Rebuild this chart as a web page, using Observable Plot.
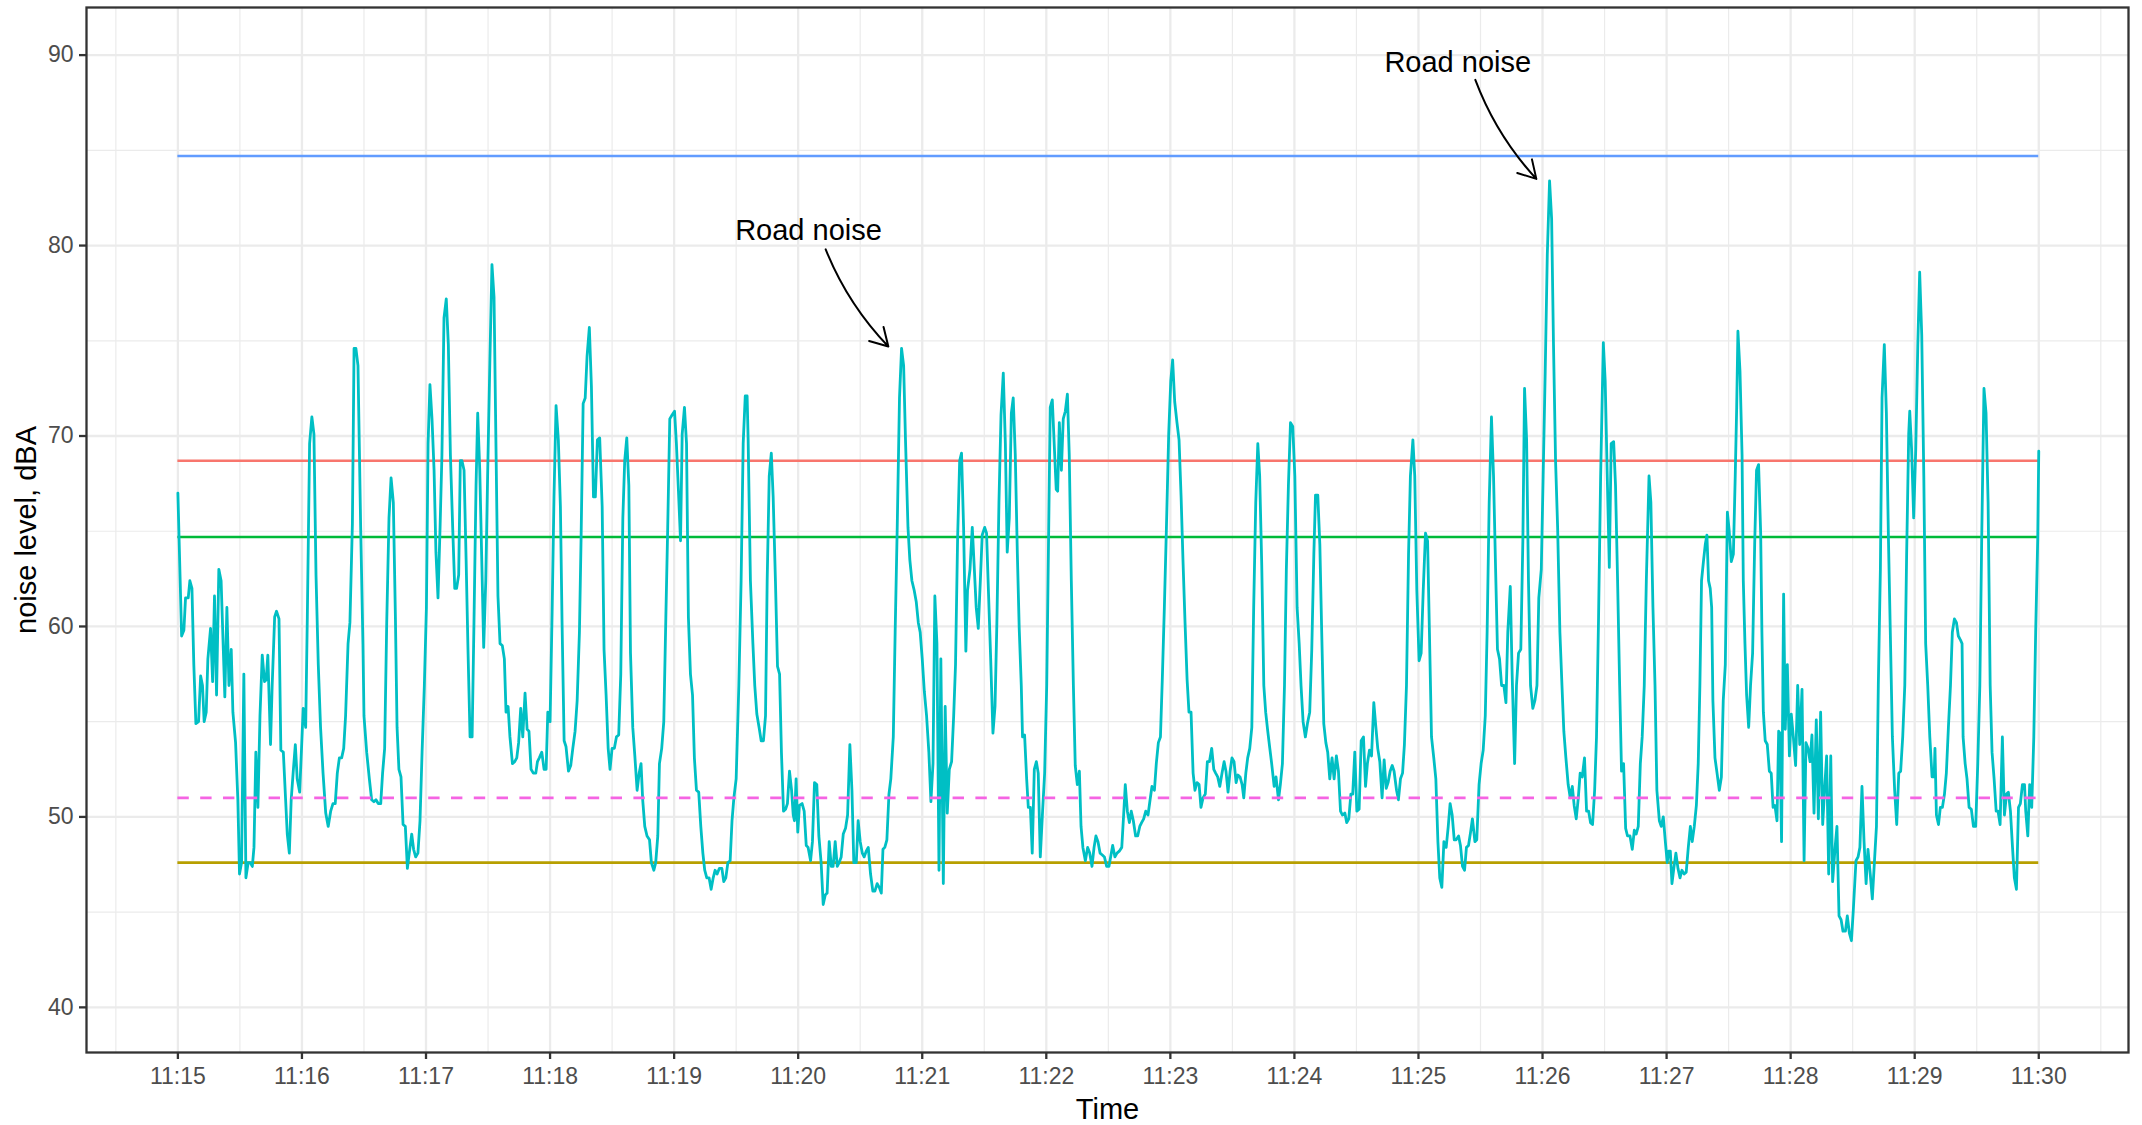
<!DOCTYPE html>
<html>
<head>
<meta charset="utf-8">
<script src="https://cdn.jsdelivr.net/npm/d3@7"></script>
<script src="https://cdn.jsdelivr.net/npm/@observablehq/plot@0.6"></script>
<style>
  html, body { margin: 0; padding: 0; background: #ffffff; }
  #chart svg { display: block; }
</style>
</head>
<body>
<div id="chart"></div>
<script>
// ---- data: seconds after 11:15:00 and measured noise level (dBA) ----
const secs = [
0,1.8,2.9,3.7,5,5.8,6.8,7.7,8.7,10,11,11.9,12.7,13.7,14.5,15.8,16.8,17.7,18.7,19.8,20.9,22.7,23.7,24.7,25.8,26.6,27.9,29,29.8,30.8,31.9,32.9,34,35,36,36.8,37.7,38.7,39.7,40.8,41.9,42.7,43.5,44.8,45.6,46.8,47.7,48.9,49.8,51,52.1,52.9,53.9,54.8,55.8,56.8,57.7,58.9,59.8,60.6,61.8,62.6,63.7,64.8,65.8,66.8,67.9,69,70.2,71.5,72.7,73.9,75,76.1,77.1,78.1,79.2,80.2,81.1,82.3,83.2,84.4,85.2,86.1,87.1,88.4,89.5,
90,91.3,92.6,93.7,94.8,95.8,96.9,98.1,99,100,101,102.1,103.1,104.2,105.2,106,106.9,107.9,108.9,110,111,111.9,113.1,114,115,116.1,117.1,118.1,119.2,120.2,121,121.9,122.9,123.9,124.8,125.8,126.8,127.7,128.7,129.8,130.8,131.8,132.9,133.9,134.8,135.8,136.6,137.4,138.4,139.4,140.3,141.3,142.3,143.2,144.2,145,146,146.9,147.9,148.9,149.8,150.9,151.9,152.9,153.9,154.8,155.8,156.9,157.9,158.7,159.7,160.6,161.8,162.9,163.9,164.8,165.8,166.8,167.9,168.9,169.8,170.8,171.9,173.1,173.9,174.8,176,177.1,178.1,178.9,180,
181,181.9,182.9,184,185,185.8,186.8,187.7,188.9,190,191,192.1,193.1,194.2,195,196,197,197.9,199,200,201,201.9,202.9,204,205.2,206.1,207.1,208.1,209,210,211.1,212.1,213.2,214.2,215.2,216.1,217.1,218.1,218.9,220,221,222.1,223.1,224,224.8,225.8,226.9,228.1,229,230.2,231.1,232.1,232.9,234,235,236,236.9,237.9,239,240.2,241.1,242.1,243.1,243.9,245,246,246.9,247.9,248.9,249.8,250.8,251.9,252.9,253.9,254.8,255.8,256.9,257.9,258.9,259.8,260.8,261.9,263.1,264,265,266,267.1,
268,268.9,270,271.3,272.4,273.4,274.4,275.3,275.8,276.9,278.1,279,280,281.1,282.1,283.2,284.2,285,286,287,287.9,289,290,291,291.9,292.9,293.9,294.8,295.8,296.8,297.6,298.2,299,299.8,300.6,301.9,302.9,303.9,304.8,306,306.9,307.9,309,310,311.1,312.1,313.1,314,315,316,316.9,317.9,318.9,319.8,320.8,321.8,322.9,323.9,325,326,326.9,328.1,329,330,331,331.9,332.9,333.9,335,336.1,337.1,338.2,339.2,340.2,341,341.9,342.9,343.9,344.8,346,346.9,347.9,349,350,351,351.9,353.1,354,355,356.1,357.1,358.1,359,360,
361,362.1,363.2,364.2,365.2,366.1,367.1,368.1,369,370.2,371.1,372.1,373.1,374.2,375.2,376.1,377.1,378.1,379,380,381.1,381.9,383.1,384.2,385.2,386.1,387.1,388.1,389,390.2,391.1,392.1,393.1,394.2,395.2,396.1,397.1,398.1,399.2,400.2,401.1,402.1,403.1,404,405,406,406.9,407.9,408.5,409.5,410.5,411.3,412.3,413.2,414.2,415.2,416.1,417.1,418.2,419.2,420.2,421.1,421.9,422.9,423.9,424.8,425.5,426.3,427.3,428.2,429.2,430.2,431.1,432.1,433.1,434,435,436,436.8,437.7,438.9,440,441,442.1,443.1,444,445,446,447.1,448.1,449.2,450.3,
452.1,453.2,454.2,455.3,456.5,457.4,458.2,459.2,460.2,461.1,462.1,463.2,464.2,465.2,466.1,467.1,468.1,469.2,470.2,471.1,472.3,473.2,474.2,475.2,476.1,477.1,478.1,479.2,480.2,481.1,482.1,483.2,484.2,485.2,486.1,487.1,488.1,489,490,491,491.9,492.9,493.9,494.8,495.8,496.9,497.9,498.9,500,501,501.9,502.9,503.9,505,506,506.9,507.9,508.9,509.8,510.8,511.8,512.7,513.7,514.7,515.5,516.5,517.4,518.4,519.4,520.3,521.3,522.3,523.2,524.2,525.2,526.1,527.1,528.1,529,530.2,531.1,532.3,533.2,534.2,535.2,536.1,537.1,538.1,539.2,540.2,541.3,
542.3,543.2,544.2,545.3,546.3,547.4,548.4,549.4,550.2,551.3,552.3,553.2,554.2,555.2,556.1,557.1,558.2,559.2,560.3,561.3,562.3,563.2,564.4,565.3,566.3,567.3,568.2,569.2,570.2,571.3,572.3,573.4,574.4,575.3,576.3,577.3,578.4,579.4,580.3,581.3,582.4,583.4,584.4,585.3,586.3,587.3,588.2,589.4,590.3,591.3,592.3,593.2,594.2,595.2,596.1,597.3,598.2,599.2,600.3,601.3,602.3,603.4,604.4,605.3,606.3,607.4,608.4,609.4,610.3,611.3,612.3,613.4,614.4,615.3,616.3,617.3,618.2,619.4,620.3,621.3,622.3,623.2,624.2,625.2,626.1,627.3,628.2,629.3,630.3,631.3,
632.3,633.2,634.2,635.3,636.3,637.3,638.2,639.2,640.2,641.3,642.3,643.2,644.4,645.3,646.5,647.4,648.4,649.5,650.5,651.3,652.3,653.2,654.2,655.3,656.3,657.3,658.2,659.4,660.3,661.3,662.3,663.4,664.4,665.3,666.3,667.3,668.4,669.4,670.3,671.3,672.4,673.4,674.4,675.3,676.3,677.3,678.2,679.2,680.3,681.3,682.3,683.2,684.2,685.2,686.1,687.1,688.1,689.4,690.3,691.3,692.3,693.2,694.4,695.3,696.3,697.3,698.2,699.2,700.2,701.1,702.3,703.4,704.4,705.3,706.3,707.3,708.2,709.2,710.2,711.5,712.4,713.4,714.4,715.3,716.5,717.4,718.4,719.4,720.3,
721,721.8,722.6,723.5,724.5,725.5,726.5,727.4,728.5,729.5,730.5,731.5,732.4,733.4,734.4,735.3,736.1,736.9,737.9,738.7,739.5,740.3,741.1,741.8,742.4,743.4,744.4,745.5,746.5,747.4,748.4,749.4,750.3,751.3,752.3,753.2,753.9,754.5,755.5,756.5,757.1,757.9,758.7,759.7,760.6,761.6,762.6,763.5,764.5,765.5,766.1,766.8,767.7,768.7,769.7,770.6,771.5,772.4,773.4,774.2,774.8,775.6,776.6,777.4,778.4,779.4,780.3,781.3,782.4,783.4,784.4,785.5,786.5,787.4,788.4,789.4,790.3,791.3,792.4,793.4,794.5,795.5,796.5,797.4,798.4,799.4,800.3,801.5,802.4,803.4,804.4,805.3,806.5,807.4,808.4,809.4,810.3,
811.6,812.6,813.5,814.5,815.5,816.5,817.4,818.5,819.5,820.5,821.5,822.4,823.4,824.2,825.3,826.3,827.3,828.2,829.2,830.3,831.3,832.3,833.2,834.2,835.2,836.1,837.1,837.6,838.5,839.5,840.5,841.5,842.4,843.4,844.4,845.3,846.3,847.3,848.4,849.4,849.8,850.5,851.5,852.4,853.4,854.4,855.3,856.3,857.3,858.2,859.2,860.2,861.1,862.1,862.9,863.4,864.4,865.3,866.3,867.4,868.4,869.5,870.5,871.5,872.4,873.5,874.5,875.5,876.5,877.4,878.4,879.4,880.3,881.3,882.4,883.4,884.4,885.3,886.3,887.3,888.2,889.2,890.2,891.1,892.1,893.1,893.7,894.7,895.6,896.6,897.6,898.5,899.5,900
];
const levels = [
67.0,59.5,59.8,61.5,61.5,62.4,62.0,58.0,54.9,55.0,57.4,56.9,55.0,55.5,58.3,59.9,57.1,61.6,56.4,63.0,62.4,56.3,61.0,56.9,58.8,55.5,53.9,50.9,47.0,47.6,57.5,46.8,47.6,47.6,47.4,48.4,53.4,50.5,55.3,58.5,57.1,57.2,58.5,53.8,56.9,60.5,60.8,60.4,53.5,53.4,50.9,49.1,48.1,50.9,52.4,53.8,52.0,51.3,53.6,55.7,54.7,60.5,69.6,71.0,70.1,62.7,58.0,54.7,52.3,50.2,49.5,50.3,50.7,50.7,52.3,53.1,53.1,53.6,55.3,59.1,60.2,65.4,74.6,74.6,73.7,65.2,59.1,
55.3,53.4,52.0,50.9,50.8,50.9,50.7,50.7,52.3,53.6,60.2,65.7,67.8,66.5,60.5,54.7,52.5,52.1,49.6,49.5,47.3,48.1,49.1,48.3,47.9,48.1,49.8,53.4,56.9,61.0,69.6,72.7,70.9,68.2,63.9,61.5,65.2,69.0,76.2,77.2,74.8,69.0,65.2,62.0,62.0,62.7,68.7,68.7,68.2,63.5,58.8,54.2,54.2,60.2,67.4,71.2,68.2,63.8,58.9,62.4,67.9,74.0,79.0,77.3,69.0,61.6,59.1,59.0,58.3,55.5,55.8,54.2,52.8,52.9,53.1,53.9,55.7,54.2,56.5,54.6,54.5,52.5,52.3,52.3,52.9,53.1,53.4,52.5,52.5,55.5,55.0,
60.8,66.8,71.6,69.8,66.3,60.2,54.0,53.7,52.4,52.7,53.6,54.5,56.1,59.7,64.6,71.7,72.0,74.2,75.7,72.6,66.8,66.8,69.8,69.9,66.3,58.8,56.4,53.6,52.5,53.6,53.6,54.2,54.3,57.5,65.7,68.7,69.9,67.4,58.6,54.7,53.2,51.4,52.3,52.8,50.9,49.5,49.0,48.8,47.6,47.2,47.6,49.0,52.8,53.6,55.0,60.5,65.2,70.9,71.1,71.3,69.6,67.1,64.5,70.1,71.5,69.6,60.5,57.5,56.4,53.1,51.4,51.3,49.5,48.1,47.2,46.8,46.8,46.2,46.8,47.2,47.0,47.3,47.3,46.6,46.8,47.6,47.7,
49.8,51.0,52.0,56.9,62.4,69.6,72.1,72.1,69.8,62.4,59.1,56.9,55.4,54.7,54.0,54.0,55.3,62.4,67.9,69.1,66.8,62.4,57.9,57.5,53.4,50.3,50.4,50.7,52.4,51.4,50.1,49.8,52.0,49.2,50.6,50.7,50.3,48.5,48.4,47.7,48.7,51.8,51.7,49.0,47.6,45.4,45.9,46.0,48.7,47.4,47.4,48.7,47.4,47.6,47.9,49.1,49.4,50.1,53.8,51.4,47.6,47.6,49.8,48.7,48.1,47.9,48.2,48.4,47.0,46.1,46.1,46.5,46.3,46.0,48.3,48.4,48.8,51.2,52.0,54.2,59.7,65.2,72.0,74.6,73.7,69.8,65.2,63.5,62.4,61.9,61.3,60.2,59.7,58.3,
56.6,55.3,53.4,50.8,52.8,61.6,59.1,47.2,58.3,46.5,55.8,50.2,52.5,52.9,55.3,58.0,64.6,68.7,69.1,65.2,58.7,61.9,63.0,65.2,63.0,61.0,59.9,62.4,64.8,65.2,64.9,61.6,58.3,54.4,55.8,60.2,66.5,71.1,73.3,69.6,63.9,65.7,71.2,72.0,69.0,63.8,59.9,56.9,54.2,54.3,52.0,50.5,50.5,48.1,52.5,52.9,52.3,47.9,50.3,52.3,56.9,64.6,71.5,71.9,69.4,67.2,67.1,70.7,68.2,70.9,71.3,72.2,69.0,62.4,56.9,52.7,51.7,52.4,49.5,48.4,47.7,48.4,48.1,47.4,48.4,49.0,48.7,48.1,48.0,47.9,47.4,47.4,
48.5,47.9,48.1,48.2,48.4,50.1,51.7,50.3,49.7,50.3,49.8,49.0,49.0,49.5,49.7,49.9,50.3,50.1,50.9,51.6,51.4,52.8,53.9,54.2,57.2,61.0,65.2,70.1,72.9,74.0,71.8,70.7,69.8,66.8,63.5,60.2,57.2,55.5,55.5,52.3,51.4,51.8,51.7,50.5,51.0,51.2,52.9,52.9,53.6,52.5,52.3,52.1,51.6,52.3,52.9,52.4,51.3,52.4,53.1,52.9,51.8,52.2,52.1,51.7,51.0,52.3,53.1,53.6,54.7,61.0,66.5,69.6,67.9,63.2,56.9,55.5,54.5,53.6,52.8,51.6,52.1,50.9,51.7,52.8,56.9,63.0,67.4,70.7,70.5,67.9,61.0,
59.1,56.9,55.0,54.2,54.9,55.5,58.8,63.8,66.9,66.9,64.3,59.7,54.9,53.9,53.4,52.0,53.1,52.0,53.2,52.4,50.3,50.1,50.2,49.7,49.9,51.2,51.2,53.4,50.3,50.4,54.0,54.2,51.6,52.8,53.5,53.2,56.0,54.7,53.6,52.9,51.0,53.0,51.5,51.8,52.4,52.7,52.4,51.4,50.9,52.0,52.3,53.8,56.9,63.8,67.9,69.8,67.9,61.9,58.2,58.6,61.9,64.9,64.5,59.7,54.2,53.1,52.0,48.7,46.8,46.3,48.7,48.4,49.5,50.7,50.1,48.8,48.8,49.0,48.5,47.4,47.2,48.4,48.5,49.2,49.9,48.7,48.8,51.7,52.8,53.5,
55.3,59.7,66.5,71.0,67.9,63.0,58.8,58.3,56.9,56.9,56.0,59.7,62.1,57.5,52.8,56.9,58.6,58.8,64.6,72.5,69.8,62.4,56.9,55.7,56.1,56.9,61.5,63.0,67.9,73.4,79.5,83.4,81.4,74.8,68.7,65.2,59.7,56.9,54.5,53.1,51.7,51.0,51.6,50.6,49.9,51.0,52.3,52.1,53.1,50.3,50.3,49.7,49.6,51.4,54.2,60.5,67.9,74.9,72.9,67.9,63.1,69.6,69.7,67.4,62.4,56.9,52.4,52.8,49.4,49.0,49.0,48.3,49.3,49.1,49.5,52.8,54.2,56.9,62.4,67.9,66.5,61.0,56.9,51.4,49.8,49.5,50.0,48.7,47.6,
48.2,48.2,46.5,47.3,48.1,47.3,46.8,47.2,47.0,47.1,48.4,49.5,48.7,49.5,50.6,52.8,56.9,62.4,63.5,64.3,64.8,62.4,62.0,61.0,56.1,53.1,52.3,51.4,52.1,56.1,58.0,66.0,65.0,63.4,63.8,67.9,71.5,75.5,73.4,69.0,62.4,59.1,56.4,54.7,56.9,58.6,64.3,68.2,68.5,64.9,59.7,55.5,54.0,53.8,52.4,52.3,50.5,50.6,49.8,54.5,54.4,48.7,61.7,54.6,58.0,53.2,55.4,54.2,52.7,56.9,53.8,56.7,47.7,53.9,53.6,52.9,54.3,50.2,55.1,49.9,55.5,49.6,51.6,53.2,47.0,53.2,46.6,48.4,49.5,44.8,44.6,44.0,44.0,44.8,43.9,43.5,45.1,
47.7,47.9,48.4,51.6,48.7,46.5,48.3,47.0,45.7,47.6,49.5,56.9,63.0,72.0,74.8,71.2,64.6,59.7,54.2,51.4,49.6,52.3,52.4,54.2,56.9,63.8,70.1,71.3,69.3,65.7,69.3,74.8,78.6,75.3,67.9,59.1,56.9,54.2,52.1,52.1,53.6,50.1,49.6,50.5,50.5,51.2,52.3,54.7,56.9,59.7,60.4,60.2,59.5,59.3,59.1,54.2,52.8,52.0,50.5,50.4,49.5,49.5,52.8,56.9,64.6,72.5,71.2,66.5,56.9,53.4,52.0,50.3,50.3,49.6,54.2,50.1,51.2,51.3,50.3,48.4,46.8,46.2,50.5,50.7,51.7,51.7,50.3,49.0,51.7,50.5,54.2,59.7,64.6,69.2
];

// summary levels drawn as horizontal lines over the measured period
const refNames  = ["ref1", "ref2", "ref3", "ref5", "ref6"];
const refLevels = [68.7, 47.6, 64.7, 84.7, 51.0];

// annotations
const noteLabels     = ["Road noise", "Road noise"];
const noteSecs       = [305, 619];
const noteLevels     = [80.8, 89.6];
const arrowFromSecs  = [313.3, 627.5];
const arrowFromLvls  = [79.8, 88.7];
const arrowToSecs    = [343.6, 657];
const arrowToLvls    = [74.7, 83.5];

// axis ticks
const yTicks = [40, 50, 60, 70, 80, 90];
const yMinorTicks = [45, 55, 65, 75, 85];
const minuteTicks = d3.range(0, 16).map(m => m * 60);
const halfMinuteTicks = d3.range(-1, 16).map(m => m * 60 + 30);

// ---- build ----
const T0 = Date.UTC(2021, 0, 1, 11, 15, 0);
const toDate = s => new Date(T0 + s * 1000);
const series = secs.map((s, i) => ({time: toDate(s), level: levels[i]}));
const tStart = toDate(secs[0]);
const tEnd = toDate(secs[secs.length - 1]);
const refs = refNames.map((n, i) => ({name: n, level: refLevels[i]}));
const refColor = {ref1: "#F8766D", ref2: "#B79F00", ref3: "#00BA38", ref5: "#619CFF", ref6: "#F564E3"};
const notes = noteLabels.map((l, i) => ({label: l, time: toDate(noteSecs[i]), level: noteLevels[i]}));
const arrows = arrowFromSecs.map((s, i) => ({
  t1: toDate(s), v1: arrowFromLvls[i], t2: toDate(arrowToSecs[i]), v2: arrowToLvls[i]
}));

const font = "'Liberation Sans', Arial, Helvetica, sans-serif";
const gridColor = "#EBEBEB";

const chart = Plot.plot({
  width: 2142,
  height: 1125,
  marginLeft: 86,
  marginRight: 14,
  marginTop: 7,
  marginBottom: 73,
  style: {fontFamily: font, fontSize: "23px", background: "#ffffff", color: "#000000"},
  x: {type: "utc", domain: [toDate(-44.2), toDate(943.4)]},
  y: {domain: [37.63, 92.5]},
  marks: [
    Plot.gridX(halfMinuteTicks.map(toDate), {stroke: gridColor, strokeOpacity: 1, strokeWidth: 1.2}),
    Plot.gridY(yMinorTicks, {stroke: gridColor, strokeOpacity: 1, strokeWidth: 1.2}),
    Plot.gridX(minuteTicks.map(toDate), {stroke: gridColor, strokeOpacity: 1, strokeWidth: 2.3}),
    Plot.gridY(yTicks, {stroke: gridColor, strokeOpacity: 1, strokeWidth: 2.3}),
    Plot.ruleY(refs.filter(d => ["ref1", "ref2", "ref3"].includes(d.name)),
      {y: "level", x1: () => tStart, x2: () => tEnd, stroke: d => refColor[d.name], strokeWidth: 2.6}),
    Plot.line(series, {x: "time", y: "level", stroke: "#00BFC4", strokeWidth: 2.8, strokeLinejoin: "round"}),
    Plot.ruleY(refs.filter(d => d.name === "ref5"),
      {y: "level", x1: () => tStart, x2: () => tEnd, stroke: d => refColor[d.name], strokeWidth: 2.6}),
    Plot.ruleY(refs.filter(d => d.name === "ref6"),
      {y: "level", x1: () => tStart, x2: () => tEnd, stroke: d => refColor[d.name], strokeWidth: 2.6, strokeDasharray: "11.4,11.4"}),
    Plot.arrow(arrows, {x1: "t1", y1: "v1", x2: "t2", y2: "v2", bend: -11, stroke: "#000000", strokeWidth: 2, headLength: 15}),
    Plot.text(notes, {x: "time", y: "level", text: "label", fontSize: 29, fill: "#000000", lineAnchor: "middle"}),
    Plot.frame({stroke: "#333333", strokeWidth: 2.3}),
    Plot.axisX(minuteTicks.map(toDate), {
      tickFormat: d3.utcFormat("%H:%M"), tickSize: 7, tickPadding: 8,
      stroke: "#333333", strokeWidth: 2.3, fill: "#4D4D4D", fontSize: 23, label: null
    }),
    Plot.axisY(yTicks, {
      tickSize: 7, tickPadding: 6, stroke: "#333333", strokeWidth: 2.3,
      fill: "#4D4D4D", fontSize: 23, label: null
    }),
    Plot.text(["Time"], {frameAnchor: "bottom", textAnchor: "middle", dy: 57, fontSize: 29, fill: "#000000", lineAnchor: "middle"}),
    Plot.text(["noise level, dBA"], {frameAnchor: "left", textAnchor: "middle", dx: -60, rotate: -90, fontSize: 29, fill: "#000000", lineAnchor: "middle"})
  ]
});
document.getElementById("chart").append(chart);
</script>
</body>
</html>
